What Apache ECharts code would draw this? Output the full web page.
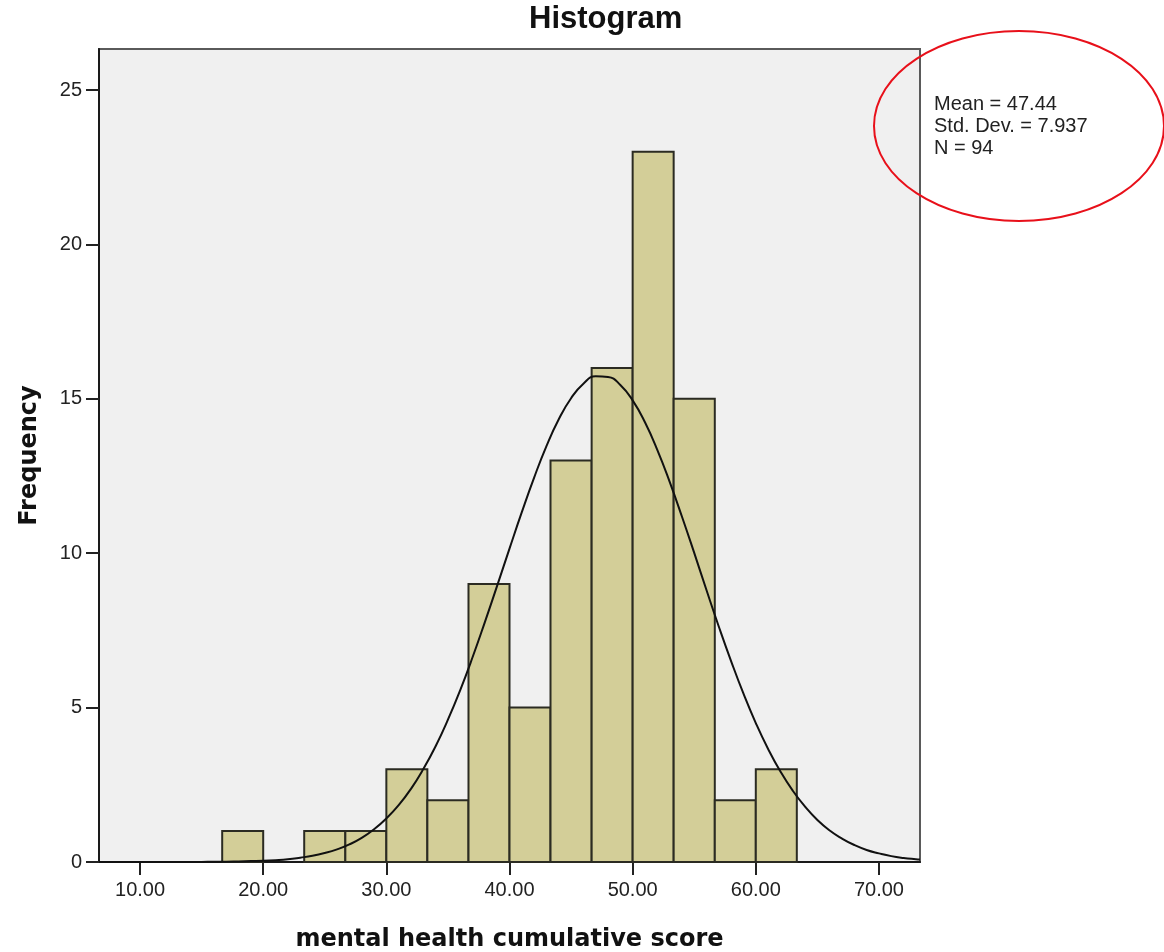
<!DOCTYPE html>
<html>
<head>
<meta charset="utf-8">
<script src="https://cdn.jsdelivr.net/npm/echarts@6/dist/echarts.min.js"></script>
<style>
  html, body { margin: 0; padding: 0; background: #ffffff; }
  #chart { width: 1164px; height: 952px; }
</style>
</head>
<body>
<div id="chart"></div>
<script>
// ---- data ----
const binLower = [16.67, 20.00, 23.33, 26.67, 30.00, 33.33, 36.67, 40.00, 43.33, 46.67, 50.00, 53.33, 56.67, 60.00];
const binUpper = [20.00, 23.33, 26.67, 30.00, 33.33, 36.67, 40.00, 43.33, 46.67, 50.00, 53.33, 56.67, 60.00, 63.33];
const frequency = [1, 0, 1, 1, 3, 2, 9, 5, 13, 16, 23, 15, 2, 3];

// normal curve points
const curveX = [6.67, 10, 14, 15, 16, 17, 18, 19, 20, 21, 22, 23, 24, 25, 26, 27, 28, 29, 30, 31, 32, 33, 34, 35, 36, 37, 38, 39, 40,
                41, 42, 43, 44, 45, 46, 47, 48, 49, 50, 51, 52, 53, 54, 55, 56, 57, 58, 59, 60, 61, 62, 63, 64, 65, 66, 67, 68, 69, 70,
                71, 72, 73, 73.33];
const curveY = [0.00, 0.00, 0.00, 0.00, 0.01, 0.01, 0.02, 0.03, 0.04, 0.06, 0.09, 0.14, 0.20, 0.29, 0.41, 0.57, 0.78, 1.06, 1.41, 1.84,
                2.37, 3.01, 3.75, 4.61, 5.57, 6.63, 7.77, 8.95, 10.15, 11.33, 12.45, 13.47, 14.34, 15.02, 15.49, 15.73, 15.71, 15.45,
                14.95, 14.24, 13.35, 12.32, 11.19, 10.01, 8.80, 7.62, 6.50, 5.45, 4.50, 3.66, 2.93, 2.31, 1.79, 1.36, 1.02, 0.76, 0.55,
                0.39, 0.28, 0.19, 0.13, 0.09, 0.08];

const xTicks = [10, 20, 30, 40, 50, 60, 70];
const yTicks = [0, 5, 10, 15, 20, 25];
const statLines = ['Mean = 47.44', 'Std. Dev. = 7.937', 'N = 94'];

const titleText = 'Histogram';
const xName = 'mental health cumulative score';
const yName = 'Frequency';

// ---- build ----
const binData = binLower.map((lo, i) => [lo, binUpper[i], frequency[i]]);
const curveData = curveX.map((x, i) => [x, curveY[i]]);

const chart = echarts.init(document.getElementById('chart'), null, { renderer: 'canvas' });

const option = {
  backgroundColor: '#ffffff',
  animation: false,
  title: {
    text: titleText,
    left: 529,
    top: 4,
    padding: 0,
    textStyle: { fontFamily: '"Liberation Sans", Arial, sans-serif', fontWeight: 'bold', fontSize: 31, color: '#111' }
  },
  grid: {
    left: 99, right: 244, top: 49, bottom: 90,
    outerBoundsMode: 'none',
    containLabel: false,
    show: true,
    backgroundColor: '#F0F0F0',
    borderColor: '#5a5a5a',
    borderWidth: 2
  },
  xAxis: {
    type: 'value',
    min: 6.667,
    max: 73.333,
    name: xName,
    nameLocation: 'middle',
    nameGap: 66,
    nameTextStyle: { fontFamily: '"DejaVu Sans", Verdana, sans-serif', fontWeight: 'bold', fontSize: 24, color: '#111' },
    axisLine: { lineStyle: { color: '#1a1a1a', width: 2 } },
    axisTick: { show: true, customValues: xTicks, length: 13, lineStyle: { color: '#222', width: 2 } },
    axisLabel: {
      customValues: xTicks,
      formatter: v => Number(v).toFixed(2),
      fontFamily: '"Liberation Sans", Arial, sans-serif',
      fontSize: 20, color: '#222', margin: 18
    },
    splitLine: { show: false }
  },
  yAxis: {
    type: 'value',
    min: 0,
    max: 26.33,
    name: yName,
    nameLocation: 'middle',
    nameGap: 57,
    nameTextStyle: { fontFamily: '"DejaVu Sans", Verdana, sans-serif', fontWeight: 'bold', fontSize: 24, color: '#111' },
    axisLine: { show: true, lineStyle: { color: '#1a1a1a', width: 2 } },
    axisTick: { show: true, customValues: yTicks, length: 13, lineStyle: { color: '#222', width: 2 } },
    axisLabel: {
      customValues: yTicks,
      fontFamily: '"Liberation Sans", Arial, sans-serif',
      fontSize: 20, color: '#222', margin: 17
    },
    splitLine: { show: false }
  },
  series: [
    {
      type: 'custom',
      name: 'bins',
      data: binData,
      encode: { x: [0, 1], y: 2 },
      z: 2,
      renderItem: function (params, api) {
        const lo = api.value(0), hi = api.value(1), v = api.value(2);
        if (!v) return null;
        const p0 = api.coord([lo, v]);
        const p1 = api.coord([hi, 0]);
        return {
          type: 'rect',
          shape: { x: p0[0], y: p0[1], width: p1[0] - p0[0], height: p1[1] - p0[1] },
          style: { fill: '#D3CE98', stroke: '#2b2b22', lineWidth: 2 }
        };
      }
    },
    {
      type: 'line',
      name: 'normal',
      data: curveData,
      smooth: true,
      showSymbol: false,
      z: 3,
      lineStyle: { color: '#111', width: 2 }
    }
  ],
  graphic: [
    {
      type: 'ellipse',
      shape: { cx: 1019, cy: 126, rx: 145, ry: 95 },
      style: { fill: 'none', stroke: '#e8101a', lineWidth: 2 },
      z: 10
    },
    {
      type: 'text',
      left: 934,
      top: 93,
      z: 10,
      style: {
        text: statLines.join('\n'),
        font: '20px "Liberation Sans", Arial, sans-serif',
        lineHeight: 22,
        fill: '#222'
      }
    }
  ]
};

chart.setOption(option);
</script>
</body>
</html>
